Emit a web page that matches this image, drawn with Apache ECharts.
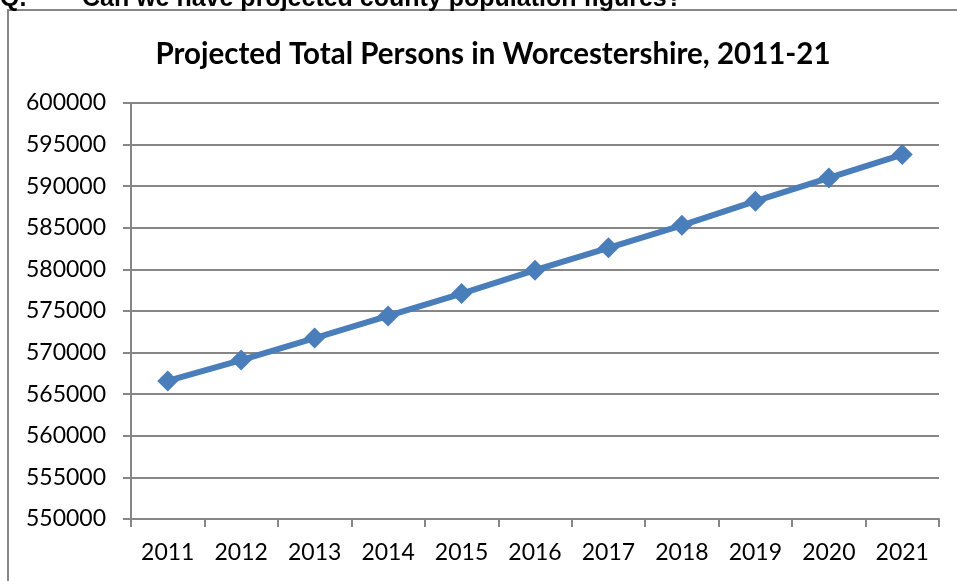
<!DOCTYPE html>
<html>
<head>
<meta charset="utf-8">
<script src="https://cdn.jsdelivr.net/npm/echarts@6/dist/echarts.min.js"></script>
<style>
html,body{margin:0;padding:0;background:#fff;}
#c{width:957px;height:581px;}
</style>
</head>
<body>
<div id="c"></div>
<script>
const titleText = 'Projected Total Persons in Worcestershire, 2011-21';
const headingText = 'Q.\u00A0\u00A0\u00A0\u00A0\u00A0\u00A0\u00A0\u00A0Can we have projected county population figures?';
const years = ['2011','2012','2013','2014','2015','2016','2017','2018','2019','2020','2021'];
const persons = [566600, 569100, 571750, 574400, 577100, 579900, 582600, 585300, 588200, 591000, 593800];
const yMin = 550000, yMax = 600000, yStep = 5000;

const chart = echarts.init(document.getElementById('c'));
const font = 'Lato, "Open Sans", sans-serif';
chart.setOption({
  animation: false,
  backgroundColor: '#fff',
  title: {
    text: titleText,
    left: 488, top: 34, textAlign: 'center',
    textStyle: {fontFamily: font, fontWeight: 'bold', fontSize: 29.5, color: '#000'}
  },
  graphic: [
    {type: 'rect', shape: {x: 8, y: 10, width: 1200, height: 800},
     style: {fill: 'none', stroke: '#868686', lineWidth: 2}, silent: true},
    {type: 'text', left: 0, top: -13,
     style: {text: headingText, fontFamily: '"Liberation Sans", Arial, sans-serif', fontWeight: 'bold', fontSize: 25, fill: '#000'}}
  ],
  grid: {left: 131, right: 18, top: 103, bottom: 62, containLabel: false},
  xAxis: {
    type: 'category', data: years, boundaryGap: true,
    axisLine: {lineStyle: {color: '#868686', width: 2}},
    axisTick: {show: true, length: 8, lineStyle: {color: '#868686', width: 2}},
    axisLabel: {fontFamily: font, fontSize: 23, color: '#000', margin: 22}
  },
  yAxis: {
    type: 'value', min: yMin, max: yMax, interval: yStep,
    axisLine: {show: true, lineStyle: {color: '#868686', width: 2}},
    axisTick: {show: true, length: 8, lineStyle: {color: '#868686', width: 2}},
    axisLabel: {fontFamily: font, fontSize: 23, color: '#000', margin: 25,
                formatter: v => String(v)},
    splitLine: {lineStyle: {color: '#868686', width: 2}}
  },
  series: [{
    type: 'line', data: persons,
    symbol: 'diamond', symbolSize: 21,
    lineStyle: {color: '#4A7EBB', width: 6},
    itemStyle: {color: '#4A7EBB'}
  }]
});
</script>
</body>
</html>
